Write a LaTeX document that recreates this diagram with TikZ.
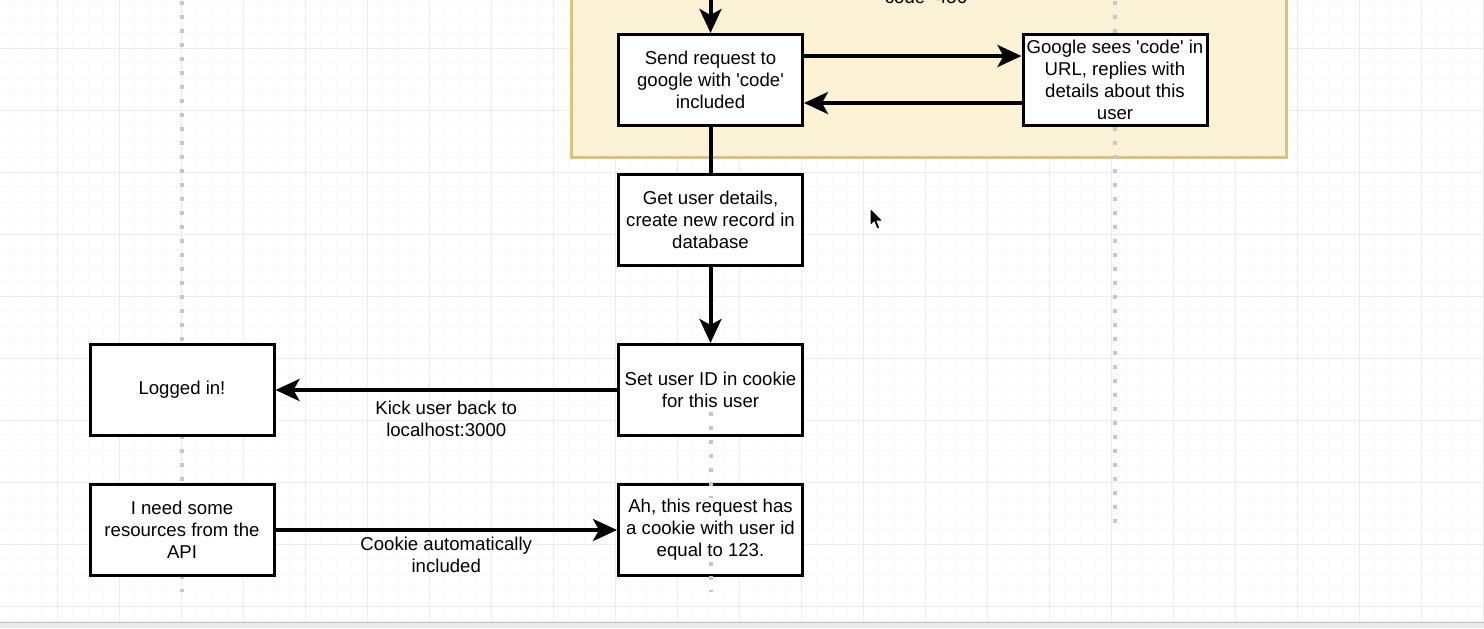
\documentclass[tikz,border=0pt]{standalone}
\usepackage{fontspec}
\setmainfont{Liberation Sans}
\usepackage{tikz}
\usetikzlibrary{arrows.meta}
\definecolor{groupfill}{HTML}{FCF3D7}
\definecolor{groupline}{HTML}{DCC37C}
\newcommand{\q}{\textquotesingle}
\tikzset{
  box/.style = {draw=black, fill=white, line width=1.5pt, align=center,
    inner sep=0pt, minimum width=92pt, minimum height=45.5pt},% step box
  flow/.style = {->, line width=2pt},% thick connector
  note/.style = {align=center, inner sep=0pt},% connector label
  lifeline/.style = {draw=black!22, line width=2pt, dash pattern=on 2pt off 5pt},
  gridmajor/.style = {draw=black!7, line width=0.5pt},
  gridminor/.style = {draw=black!2.5, line width=0.5pt}
}

\begin{document}
\begin{tikzpicture}[x=0.5pt, y=-0.5pt, >={Stealth[length=12pt,width=11pt,inset=3pt]},
  font=\fontsize{9.3}{11}\selectfont]
\useasboundingbox (0,0) rectangle (1484,628);
\clip (0,0) rectangle (1484,628);
% grid
\foreach \i in {0,...,96} \draw[gridminor] (-5+15.5*\i,0) -- (-5+15.5*\i,622);
\foreach \i in {0,...,41} \draw[gridminor] (0,-14+15.5*\i) -- (1484,-14+15.5*\i);
\foreach \i in {0,...,24} \draw[gridmajor] (-5+62*\i,0) -- (-5+62*\i,622);
\foreach \i in {0,...,10} \draw[gridmajor] (0,-14+62*\i) -- (1484,-14+62*\i);
\fill[black!8] (0,622) rectangle (1484,628);
\draw[black!25] (0,622) -- (1484,622);

% google part
\filldraw[fill=groupfill, draw=groupline, line width=1.5pt] (571,-60) rectangle (1286,157);
\node[note, anchor=base] (codetxt) at (926,3) {code=456};

% lifelines
\draw[lifeline] (182,1) -- (182,592);
\draw[lifeline] (1115,1) -- (1115,527);

\node[box] (send) at (710.5,80) {Send request to\\google with \q code\q\\included};
\node[box] (google) at (1115,80) {Google sees \q code\q{} in\\URL, replies with\\details about this\\user};
\node[box] (getuser) at (710.5,219.5) {Get user details,\\create new record in\\database};
\node[box] (setid) at (710.5,390) {Set user ID in cookie\\for this user};
\node[box] (logged) at (182,390) {Logged in!};
\node[box] (need) at (182,530) {I need some\\resources from the\\API};
\node[box] (ah) at (710.5,530) {Ah, this request has\\a cookie with user id\\equal to 123.};

\draw[lifeline] (710.5,412) -- (710.5,498);
\draw[lifeline] (710.5,562) -- (710.5,592);

\coordinate (topin) at (710.5,-4);
\draw[flow] (topin) -- (send);
\draw[flow] ([yshift=12pt]send.east) -- ([yshift=12pt]send.east -| google.west);
\draw[flow] ([yshift=-11.5pt]google.west) -- ([yshift=-11.5pt]google.west -| send.east);
\draw[line width=2pt] (send) -- (getuser);
\draw[flow] (getuser) -- (setid);
\draw[flow] (setid) -- (logged)
  node[note, midway, yshift=-14.5pt] {Kick user back to\\localhost:3000};
\draw[flow] (need) -- (ah)
  node[note, midway, yshift=-12.5pt] {Cookie automatically\\included};

% mouse pointer
\filldraw[fill=black, draw=white, line width=0.5pt] (870,208) -- (870,226) -- (874,222)
  -- (877,229) -- (880,228) -- (877,221) -- (883,221) -- cycle;
\end{tikzpicture}
\end{document}
